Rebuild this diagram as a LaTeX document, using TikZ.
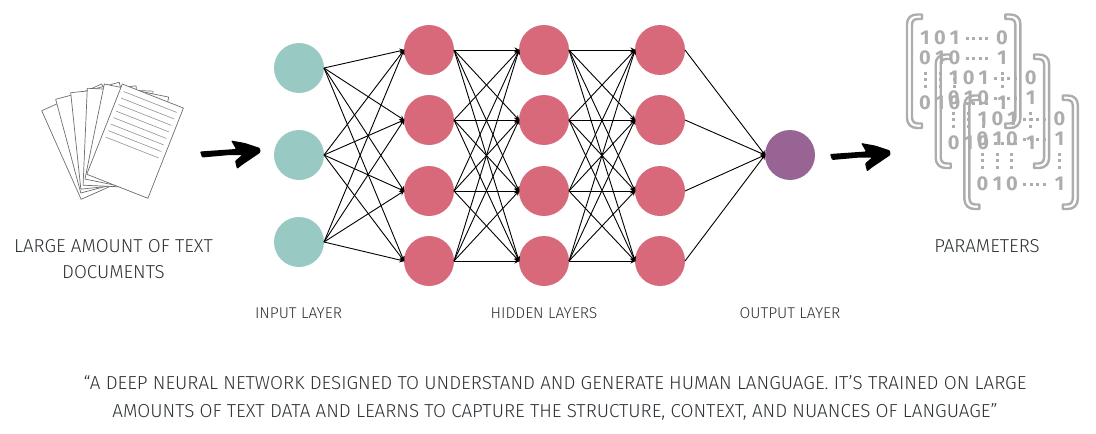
\documentclass[tikz,border=0pt]{standalone}
\usepackage{fontspec}
\setmainfont{Fira Sans}[UprightFont=* Light,BoldFont=* Bold]
\usetikzlibrary{arrows.meta}
\definecolor{tealc}{HTML}{99C9C3}
\definecolor{redc}{HTML}{D7697A}
\definecolor{purc}{HTML}{976493}
\definecolor{txtc}{HTML}{2C3135}
\definecolor{icong}{HTML}{ADADAD}
\definecolor{pageg}{HTML}{6E6E6E}
\tikzset{
  neuron/.style={circle,minimum size=50pt,inner sep=0pt,outer sep=0pt,fill=#1},
  link/.style={draw=black,line width=0.9pt,-{Stealth[length=5pt,width=5pt]},shorten >=-0.5pt},
  biglabel/.style={text=txtc,font=\fontsize{18.7}{26}\selectfont,align=center,inner sep=0pt},
  smalllabel/.style={text=txtc,font=\fontsize{15.6}{18}\selectfont,inner sep=0pt},
  quotelabel/.style={text=txtc,font=\fontsize{18.8}{28}\selectfont,align=center,inner sep=0pt},
  digit/.style={text=icong,font=\fontsize{20}{20}\selectfont\bfseries,inner sep=0pt},
  dotrun/.style={draw=icong,line width=3pt,dash pattern=on 3pt off 3.6pt},
  pageedge/.style={draw=pageg,line width=0.7pt,fill=white,line join=round},
  pageline/.style={draw=pageg!75,line width=0.6pt},
  backline/.style={draw=pageg!45,line width=0.5pt},
  bracketline/.style={draw=icong,line width=2.4pt,line join=round},
}
\newcommand{\onepage}[3]{%
  \begin{scope}[shift={(#1,#2)},rotate=#3]
    \draw[pageedge] (0,0)--(65.7,0)--(65.7,97)--(0,97)--cycle;
    \foreach \yy in {6.5,13.5,...,35}{\draw[backline] (16,\yy)--(61,\yy);}
  \end{scope}}
\newcommand{\frontpage}[3]{%
  \begin{scope}[shift={(#1,#2)},rotate=#3]
    \draw[pageedge] (0,0)--(65.7,0)--(65.7,97)--(0,97)--cycle;
    \foreach \yy in {6.5,13.5,...,56}{\draw[pageline] (4,\yy)--(61,\yy);}
  \end{scope}}
\newcommand{\halfbracket}{%
  \draw[bracketline] (922,14.5)--(917,14.5) .. controls (911,14.5) and (907,18) .. (907,24)
    --(907,118) .. controls (907,124) and (911,128) .. (917,128)--(922,128)--(922,123.5)--(918,123.5)
    .. controls (914,123.5) and (912,121) .. (912,117)--(912,25)
    .. controls (912,21) and (914,19) .. (918,19)--(922,19)--cycle;}
\newcommand{\handarrow}[2]{%
  \fill[black,rounded corners=1pt,shift={(#1,#2)}] (0,-1.5)--(36,-4)--(31,-12.5)--(45,-10)--(60,-5)--(60.5,-0.5)
    --(42,12)--(37,16)--(35,8)--(42,2)--(30,2)--(2,4.5)--cycle;}
\newcommand{\matrixicon}[3]{%
  \begin{scope}[shift={(#1,#2)}]
    \halfbracket
    \begin{scope}[shift={(1927.4,0)},xscale=-1]\halfbracket\end{scope}
    \foreach \xx/\a/\b/\c [count=\k] in {925/1/0/0,940/0/1/1,954.5/1/0/0,1002/0/1/1}{
      \node[digit] (d#3a\k) at (\xx,38) {\a};
      \node[digit] (d#3b\k) at (\xx,58) {\b};
      \node[digit] (d#3c\k) at (\xx,103) {\c};
      \draw[dotrun] (\xx,71.5)--(\xx,90);
    }
    \draw[dotrun] (965.5,38.5)--(989.5,38.5);
    \draw[dotrun] (965.5,58.5)--(989.5,58.5);
    \draw[dotrun] (965.5,103)--(989.5,103);
  \end{scope}}
\begin{document}
\begin{tikzpicture}[x=1pt,y=-1pt]
\useasboundingbox (0,0) rectangle (1096,434);
% documents
\onepage{41.7}{110.7}{24}
\onepage{55.7}{99.3}{15}
\onepage{70.7}{92.7}{6}
\onepage{87.3}{88.3}{-2.5}
\onepage{104.3}{84}{-11.5}
\frontpage{122.3}{84}{-21.5}
\handarrow{200}{153}
% network
\foreach \n/\y in {1/68,2/155,3/242}{\node[neuron=tealc] (i\n) at (299,\y) {};}
\foreach \n/\y in {1/50,2/120,3/191,4/261}{
  \node[neuron=redc] (a\n) at (429,\y) {};
  \node[neuron=redc] (b\n) at (544,\y) {};
  \node[neuron=redc] (c\n) at (660,\y) {};
}
\node[neuron=purc] (o) at (790,155) {};
\foreach \s in {1,2,3}{\foreach \t in {1,2,3,4}{\draw[link] (i\s.east)--(a\t.west);}}
\foreach \s in {1,2,3,4}{\foreach \t in {1,2,3,4}{
  \draw[link] (a\s.east)--(b\t.west);
  \draw[link] (b\s.east)--(c\t.west);}}
\foreach \s in {1,2,3,4}{\draw[link] (c\s.east)--(o.west);}
\handarrow{830}{155.5}
% parameter icon
\matrixicon{0}{0}{p}
\matrixicon{28.7}{40}{q}
\matrixicon{57.4}{81}{r}
% labels
\node[biglabel] (lbldocs) at (113.5,259.5) {LARGE AMOUNT OF TEXT\\DOCUMENTS};
\node[biglabel] (lblparams) at (987,246.5) {PARAMETERS};
\node[smalllabel] (lblin) at (298.5,313.5) {INPUT LAYER};
\node[smalllabel] (lblhid) at (544,313) {HIDDEN LAYERS};
\node[smalllabel] (lblout) at (790,313) {OUTPUT LAYER};
\node[quotelabel] (lblquote) at (555,397.5) {“A DEEP NEURAL NETWORK DESIGNED TO UNDERSTAND AND GENERATE HUMAN LANGUAGE. IT'S TRAINED ON LARGE\\AMOUNTS OF TEXT DATA AND LEARNS TO CAPTURE THE STRUCTURE, CONTEXT, AND NUANCES OF LANGUAGE”};
\end{tikzpicture}
\end{document}
